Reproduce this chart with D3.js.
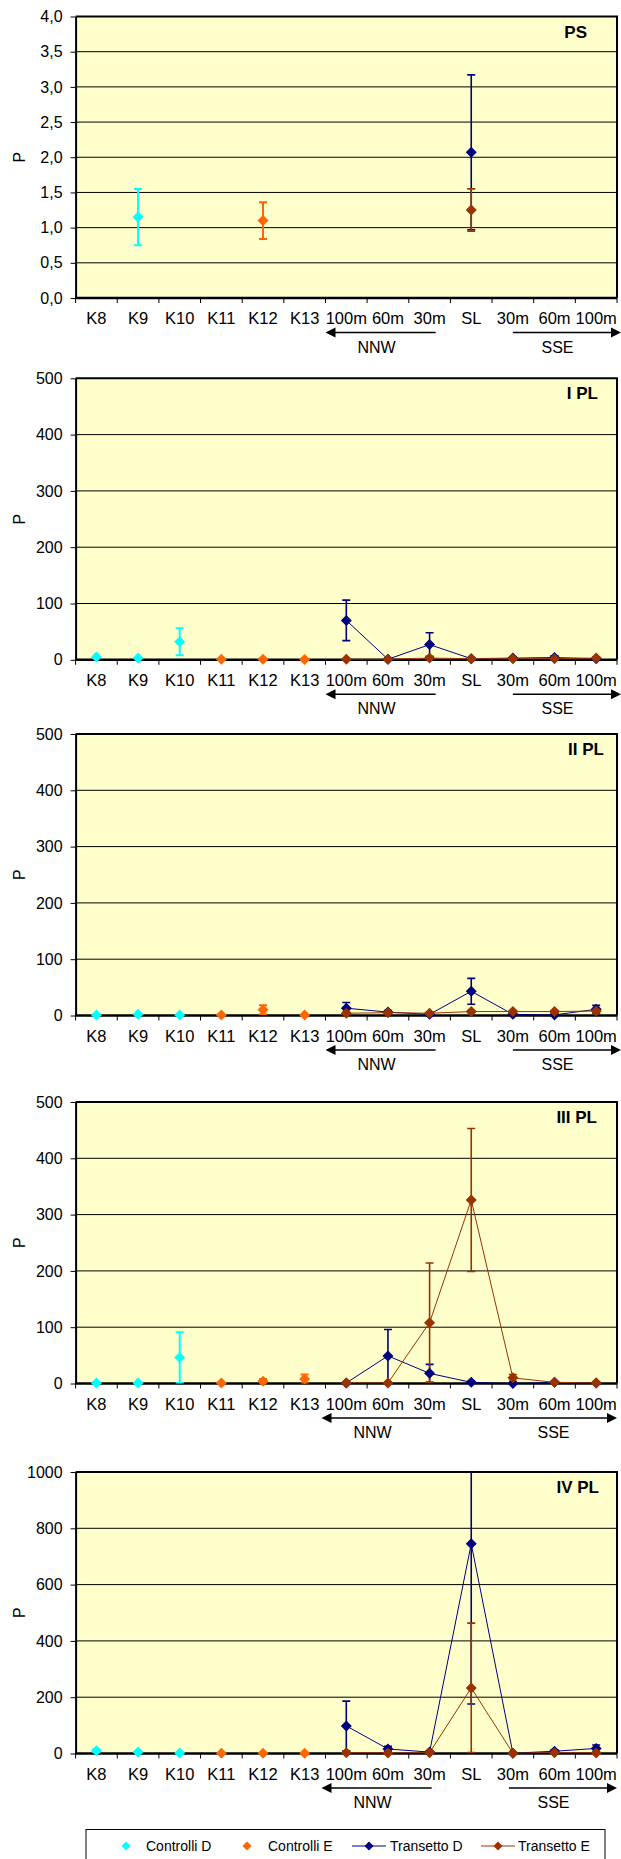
<!DOCTYPE html>
<html lang="it">
<head>
<meta charset="UTF-8">
<title>PS - PL</title>
<script src="https://d3js.org/d3.v7.min.js"></script>
<style>
  body { margin: 0; background: #fff; }
  text { font-family: Arial, "Liberation Sans", sans-serif; fill: #000; }
</style>
</head>
<body>
<script>
// stations on the x axis
const stations = ["K8", "K9", "K10", "K11", "K12", "K13", "100m", "60m", "30m", "SL", "30m", "60m", "100m"];
const ctrlDIdx = [0, 1, 2];
const ctrlEIdx = [3, 4, 5];
const transIdx = [6, 7, 8, 9, 10, 11, 12];

const panelNames = ["PS", "I PL", "II PL", "III PL", "IV PL"];
const yMax = [4, 500, 500, 500, 1000];
const yStep = [0.5, 100, 100, 100, 200];

// PS
const psCtrlD = [null, 1.15, null];
const psCtrlDErr = [0, 0.40, 0];
const psCtrlE = [null, 1.10, null];
const psCtrlEErr = [0, 0.26, 0];
const psTransD = [null, null, null, 2.07, null, null, null];
const psTransDErr = [0, 0, 0, 1.10, 0, 0, 0];
const psTransE = [null, null, null, 1.25, null, null, null];
const psTransEErr = [0, 0, 0, 0.30, 0, 0, 0];

// I PL
const pl1CtrlD = [5, 3, 32];
const pl1CtrlDErr = [0, 0, 24];
const pl1CtrlE = [1, 1, 0.5];
const pl1CtrlEErr = [0, 0, 0];
const pl1TransD = [70, 1, 27, 2, 3, 4, 2];
const pl1TransDErr = [36, 1, 21, 1, 2, 3, 1];
const pl1TransE = [1, 1, 3, 2, 2, 2, 3];
const pl1TransEErr = [1, 1, 2, 1, 1, 1, 2];

// II PL
const pl2CtrlD = [1, 2, 1];
const pl2CtrlDErr = [0, 0, 0];
const pl2CtrlE = [1, 10, 1];
const pl2CtrlEErr = [0, 8, 0];
const pl2TransD = [13, 6, 2, 43, 2, 1, 11];
const pl2TransDErr = [10, 3, 1, 23, 1, 1, 7];
const pl2TransE = [4, 5, 4, 7, 7, 7, 8];
const pl2TransEErr = [2, 2, 2, 2, 2, 2, 3];

// III PL
const pl3CtrlD = [1, 1, 46];
const pl3CtrlDErr = [0, 0, 45];
const pl3CtrlE = [1, 4, 8];
const pl3CtrlEErr = [0, 4, 8];
const pl3TransD = [1, 49, 18, 2, 0, 2, 1];
const pl3TransDErr = [1, 47, 16, 2, 0, 1, 1];
const pl3TransE = [1, 1, 108, 326, 10, 2, 1];
const pl3TransEErr = [0, 0, 106, 127, 6, 1, 0];

// IV PL
const pl4CtrlD = [10, 5, 2];
const pl4CtrlDErr = [5, 2, 1];
const pl4CtrlE = [1, 1, 1];
const pl4CtrlEErr = [0, 0, 0];
const pl4TransD = [98, 16, 5, 745, 1, 8, 18];
const pl4TransDErr = [88, 10, 2, 569, 1, 5, 12];
const pl4TransE = [3, 2, 3, 233, 1, 3, 2];
const pl4TransEErr = [1, 1, 1, 230, 1, 1, 1];

const seriesNames = ["Controlli D", "Controlli E", "Transetto D", "Transetto E"];

const panelData = [
  [[psCtrlD, psCtrlDErr], [psCtrlE, psCtrlEErr], [psTransD, psTransDErr], [psTransE, psTransEErr]],
  [[pl1CtrlD, pl1CtrlDErr], [pl1CtrlE, pl1CtrlEErr], [pl1TransD, pl1TransDErr], [pl1TransE, pl1TransEErr]],
  [[pl2CtrlD, pl2CtrlDErr], [pl2CtrlE, pl2CtrlEErr], [pl2TransD, pl2TransDErr], [pl2TransE, pl2TransEErr]],
  [[pl3CtrlD, pl3CtrlDErr], [pl3CtrlE, pl3CtrlEErr], [pl3TransD, pl3TransDErr], [pl3TransE, pl3TransEErr]],
  [[pl4CtrlD, pl4CtrlDErr], [pl4CtrlE, pl4CtrlEErr], [pl4TransD, pl4TransDErr], [pl4TransE, pl4TransEErr]]
];

// styles per series
const seriesIdx = [ctrlDIdx, ctrlEIdx, transIdx, transIdx];
const seriesColor = ["#00FFFF", "#FF6600", "#000080", "#993300"];
const seriesLine = [false, false, true, true];
const errWidth = [2, 2, 1.6, 1.6];

// layout
const W = 621, H = 1859;
const left = 75.6, right = 617;
const tops = [16.5, 378.3, 734, 1102, 1472];
const plotH = 281.5;
const titleX = [587, 598, 604, 597, 599];
const arrowShift = [0, 0, 0, -4, -4];

const commaFmt = d3.formatLocale({decimal: ",", thousands: ".", grouping: [3], currency: ["", ""]}).format(".1f");

const svg = d3.select("body").append("svg")
  .attr("width", W)
  .attr("height", H);

const defs = svg.append("defs");

const x = d3.scaleBand()
  .domain(d3.range(stations.length))
  .range([left, right])
  .padding(0);

const diamond = "M0,-5.5L5.5,0L0,5.5L-5.5,0Z";

panelData.forEach((series, p) => {
  const top = tops[p], bottom = top + plotH;
  const g = svg.append("g");

  const y = d3.scaleLinear()
    .domain([0, yMax[p]])
    .range([bottom, top]);
  const ticks = d3.range(0, yMax[p] + yStep[p] / 2, yStep[p]);

  // background
  g.append("rect")
    .attr("x", left).attr("y", top)
    .attr("width", right - left).attr("height", plotH)
    .attr("fill", "#FFFFCC");

  // grid
  g.selectAll(".grid")
    .data(ticks.slice(1, -1))
    .enter().append("line")
    .attr("x1", left).attr("x2", right)
    .attr("y1", d => y(d)).attr("y2", d => y(d))
    .attr("stroke", "#000")
    .attr("stroke-width", 1);

  // frame
  g.append("path")
    .attr("d", `M${left},${top}H${right}V${bottom}`)
    .attr("fill", "none")
    .attr("stroke", "#000")
    .attr("stroke-width", 2);

  //y-axis
  const yAxis = g.append("g")
    .attr("transform", `translate(${left},0)`)
    .call(d3.axisLeft(y)
      .tickValues(ticks)
      .tickSize(5)
      .tickSizeOuter(0)
      .tickPadding(8)
      .tickFormat(d => p === 0 ? commaFmt(d) : d));
  yAxis.select(".domain").attr("stroke-width", 2);
  yAxis.selectAll("text").style("font-size", "16px").attr("font-family", null);

  //x-axis
  g.append("line")
    .attr("x1", left).attr("x2", right)
    .attr("y1", bottom).attr("y2", bottom)
    .attr("stroke", "#000").attr("stroke-width", 2.5);

  g.selectAll(".xtick")
    .data(d3.range(stations.length + 1))
    .enter().append("line")
    .attr("x1", i => left + i * x.bandwidth())
    .attr("x2", i => left + i * x.bandwidth())
    .attr("y1", bottom).attr("y2", bottom + 5)
    .attr("stroke", "#000");

  g.selectAll(".xlab")
    .data(stations)
    .enter().append("text")
    .attr("x", (d, i) => x(i) + x.bandwidth() / 2)
    .attr("y", bottom + 26)
    .attr("text-anchor", "middle")
    .style("font-size", "16.5px")
    .text(d => d);

  // arrows
  const s = arrowShift[p];
  const ay = bottom + 34.5;
  const nnwL = x(6) + s, nnwR = x(8) + x.bandwidth() / 2 + 6 + s;
  const sseL = x(10) + x.bandwidth() / 2 + s, sseR = W + s;
  g.append("line")
    .attr("x1", nnwL + 8).attr("x2", nnwR)
    .attr("y1", ay).attr("y2", ay)
    .attr("stroke", "#000").attr("stroke-width", 1.5);
  g.append("path")
    .attr("d", `M${nnwL},${ay}l10,-5v10z`)
    .attr("fill", "#000");
  g.append("line")
    .attr("x1", sseL).attr("x2", sseR - 8)
    .attr("y1", ay).attr("y2", ay)
    .attr("stroke", "#000").attr("stroke-width", 1.5);
  g.append("path")
    .attr("d", `M${sseR},${ay}l-10,-5v10z`)
    .attr("fill", "#000");
  g.append("text")
    .attr("x", (nnwL + nnwR) / 2 - 4)
    .attr("y", bottom + 54.5)
    .attr("text-anchor", "middle")
    .style("font-size", "16px")
    .text("NNW");
  g.append("text")
    .attr("x", x(11) + x.bandwidth() / 2 + 3 + s)
    .attr("y", bottom + 54.5)
    .attr("text-anchor", "middle")
    .style("font-size", "16px")
    .text("SSE");

  // y label
  g.append("text")
    .attr("transform", `translate(25,${(top + bottom) / 2}) rotate(-90)`)
    .attr("text-anchor", "middle")
    .style("font-size", "16px")
    .text("P");

  // title
  g.append("text")
    .attr("x", titleX[p])
    .attr("y", top + 21)
    .attr("text-anchor", "end")
    .style("font-size", "17px")
    .style("font-weight", "bold")
    .text(panelNames[p]);

  // clip
  defs.append("clipPath")
    .attr("id", "clip" + p)
    .append("rect")
    .attr("x", left).attr("y", top)
    .attr("width", right - left).attr("height", plotH);

  const plot = g.append("g").attr("clip-path", `url(#clip${p})`);

  series.forEach(([vals, errs], k) => {
    const pts = vals.map((v, j) => ({i: seriesIdx[k][j], v: v, e: errs[j]}))
      .filter(d => d.v != null);
    const col = seriesColor[k];

    if (seriesLine[k] && pts.length > 1) {
      plot.append("path")
        .datum(pts)
        .attr("d", d3.line()
          .x(d => x(d.i) + x.bandwidth() / 2)
          .y(d => y(d.v)))
        .attr("fill", "none")
        .attr("stroke", col)
        .attr("stroke-width", 1);
    }

    // error bars
    const eb = plot.selectAll(null)
      .data(pts.filter(d => d.e > 0))
      .enter().append("g")
      .attr("stroke", col)
      .attr("stroke-width", errWidth[k]);
    eb.append("line")
      .attr("x1", d => x(d.i) + x.bandwidth() / 2)
      .attr("x2", d => x(d.i) + x.bandwidth() / 2)
      .attr("y1", d => y(d.v + d.e))
      .attr("y2", d => y(Math.max(0, d.v - d.e)));
    eb.append("line")
      .attr("x1", d => x(d.i) + x.bandwidth() / 2 - 4)
      .attr("x2", d => x(d.i) + x.bandwidth() / 2 + 4)
      .attr("y1", d => y(d.v + d.e))
      .attr("y2", d => y(d.v + d.e));
    eb.append("line")
      .attr("x1", d => x(d.i) + x.bandwidth() / 2 - 4)
      .attr("x2", d => x(d.i) + x.bandwidth() / 2 + 4)
      .attr("y1", d => y(Math.max(0, d.v - d.e)))
      .attr("y2", d => y(Math.max(0, d.v - d.e)));

    // markers
    g.selectAll(null)
      .data(pts)
      .enter().append("path")
      .attr("d", diamond)
      .attr("transform", d => `translate(${x(d.i) + x.bandwidth() / 2},${y(d.v)})`)
      .attr("fill", col);
  });
});

//legend
const ly = 1846;
const legend = svg.append("g");
legend.append("rect")
  .attr("x", 86).attr("y", 1829.5)
  .attr("width", 519).attr("height", 40)
  .attr("fill", "#fff")
  .attr("stroke", "#000");

const legX = [126, 247, 369, 498];
const legTextX = [146, 268, 390, 518];

seriesNames.forEach((name, k) => {
  if (seriesLine[k]) {
    legend.append("line")
      .attr("x1", legX[k] - 17).attr("x2", legX[k] + 17)
      .attr("y1", ly).attr("y2", ly)
      .attr("stroke", seriesColor[k]);
  }
  legend.append("path")
    .attr("d", "M0,-4.5L4.5,0L0,4.5L-4.5,0Z")
    .attr("transform", `translate(${legX[k]},${ly})`)
    .attr("fill", seriesColor[k]);
  legend.append("text")
    .attr("x", legTextX[k])
    .attr("y", ly + 5)
    .style("font-size", "14px")
    .text(name);
});
</script>
</body>
</html>
